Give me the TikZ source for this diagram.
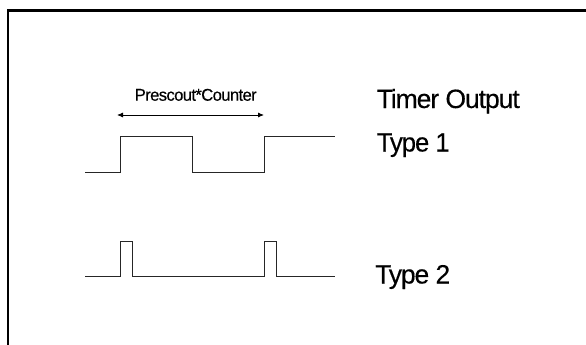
\documentclass[tikz,border=0pt]{standalone}
\usepackage{fontspec}
\setmainfont{Liberation Sans}
\newfontfamily\condfont[LetterSpace=-4,FakeBold=0.25]{Liberation Sans}
\usetikzlibrary{arrows.meta}
\newcommand{\fitw}[2]{\resizebox{#1}{\height}{#2}}
\begin{document}
\begin{tikzpicture}[x=1pt,y=-1pt,
  wave/.style={draw=black!85, line width=1pt},
  bigtxt/.style={font=\condfont\fontsize{26.5}{30}\selectfont, inner sep=0pt, anchor=base west},
  smalltxt/.style={font=\condfont\fontsize{17}{19}\selectfont, inner sep=0pt, anchor=base west},
  span/.style={draw=black, line width=0.8pt, {Latex[length=6pt,width=5pt]}-{Latex[length=6pt,width=5pt]}}]
  \useasboundingbox (0,0) rectangle (586,345);
  \fill[white] (0,0) rectangle (586,345);
  % frame (left and top edges visible)
  \draw[line width=2.3pt] (7.8,346) -- (7.8,10.5) -- (587,10.5);
  % labels
  \node[smalltxt] (pc) at (134.5,100.7) {\fitw{122pt}{Prescout*Counter}};
  \node[bigtxt] (to) at (376.5,108) {\fitw{143pt}{Timer Output}};
  \node[bigtxt] (t1) at (376.5,151.5) {\fitw{73pt}{Type 1}};
  \node[bigtxt] (t2) at (375,283.5) {\fitw{75pt}{Type 2}};
  % arrow span
  \coordinate (aL) at (117,115);
  \coordinate (aR) at (264,115);
  \draw[span] (aL) -- (aR);
  % Type 1 waveform
  \draw[wave] (85,172) -- (120.5,172) -- (120.5,136) -- (192.5,136) -- (192.5,172)
     -- (264.5,172) -- (264.5,136) -- (335,136);
  % Type 2 waveform
  \draw[wave] (85,276) -- (120.5,276) -- (120.5,241.5) -- (132.5,241.5) -- (132.5,276)
     -- (264.5,276) -- (264.5,241.5) -- (276,241.5) -- (276,276) -- (335,276);
\end{tikzpicture}
\end{document}
